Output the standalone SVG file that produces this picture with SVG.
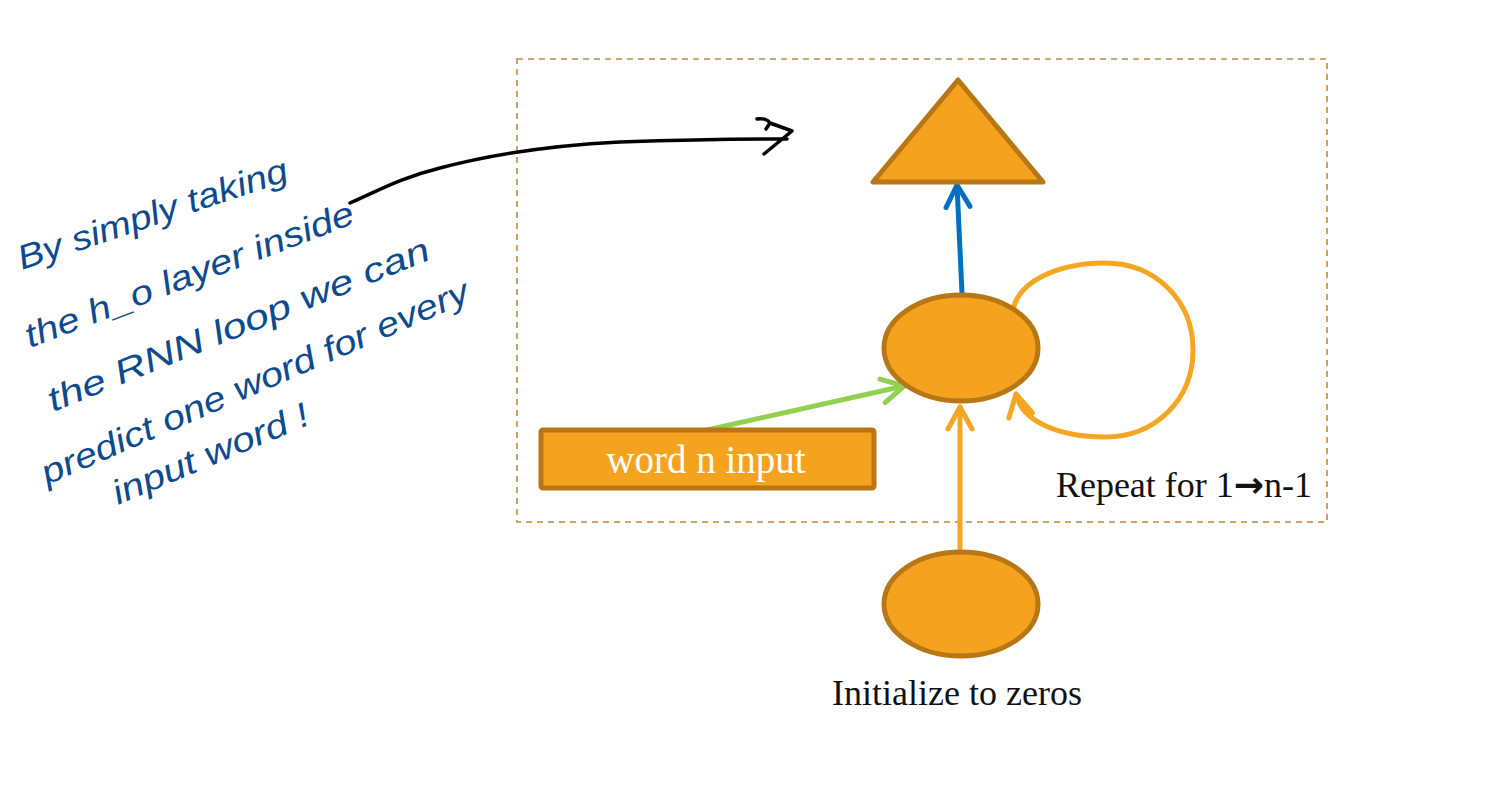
<svg xmlns="http://www.w3.org/2000/svg" width="1489" height="787" viewBox="0 0 1489 787">
<style>
.node{fill:#F5A31F;stroke:#B87614;stroke-width:5}
.serif{font-family:"Liberation Serif","Times New Roman",serif}
.hand{font-family:"Liberation Sans",Arial,sans-serif;font-style:italic;fill:#0D4A8E;font-size:34px}
.conn{fill:none;stroke-width:5;stroke-linecap:round}
</style>
<defs>
<marker id="hb" markerUnits="userSpaceOnUse" viewBox="-30 -20 40 40" refX="0" refY="0" markerWidth="40" markerHeight="40" orient="auto" overflow="visible"><path d="M-22,-12 L0,0 L-22,12" fill="none" stroke="#0070C0" stroke-width="5" stroke-linecap="round" stroke-linejoin="round"/></marker>
<marker id="ho" markerUnits="userSpaceOnUse" viewBox="-30 -20 40 40" refX="0" refY="0" markerWidth="40" markerHeight="40" orient="auto" overflow="visible"><path d="M-22,-12 L0,0 L-22,12" fill="none" stroke="#F5A623" stroke-width="5" stroke-linecap="round" stroke-linejoin="round"/></marker>
<marker id="hg" markerUnits="userSpaceOnUse" viewBox="-30 -20 40 40" refX="0" refY="0" markerWidth="40" markerHeight="40" orient="auto" overflow="visible"><path d="M-22,-12 L0,0 L-22,12" fill="none" stroke="#92D050" stroke-width="5" stroke-linecap="round" stroke-linejoin="round"/></marker>
</defs>
<rect width="1489" height="787" fill="#ffffff"/>
<rect id="loop-box" x="517" y="59" width="810" height="463" fill="none" stroke="#C08A3E" stroke-width="1.6" stroke-dasharray="6 5"/>
<g id="connectors">
<path class="conn" d="M962,293 L957,185" stroke="#0070C0" marker-end="url(#hb)"/>
<path class="conn" d="M960,550 L960,407" stroke="#F5A623" marker-end="url(#ho)"/>
<path class="conn" d="M707,430 L904,386" stroke="#92D050" marker-end="url(#hg)"/>
<path class="conn" d="M1013,312 C1016,282 1058,263 1105,263 C1155,263 1193,300 1193,350 C1193,400 1155,437 1105,437 C1060,437 1022,422 1016,394" stroke="#F5A623" marker-end="url(#ho)"/>
<path d="M350,203 C380,190 400,178 440,168 C500,152 560,145 620,142 C680,140 740,139 787,139" fill="none" stroke="#000" stroke-width="3.5" stroke-linecap="round"/>
<path d="M757,119 C763,118 768,120 770,123 L766,129 M770,123 L792,131 L764,154" fill="none" stroke="#000" stroke-width="3.5" stroke-linecap="round" stroke-linejoin="round"/>
</g>
<g id="output">
<polygon class="node" points="958,80 873,182 1043,182" stroke-linejoin="round"/>
</g>
<g id="hidden">
<ellipse class="node" cx="961" cy="348" rx="77" ry="53"/>
</g>
<g id="word-input">
<rect class="node" x="541" y="430" width="333" height="58" rx="2"/>
<text class="serif" x="706" y="473" font-size="39" fill="#ffffff" text-anchor="middle">word n input</text>
</g>
<g id="init">
<ellipse class="node" cx="961" cy="604" rx="77" ry="52"/>
<text class="serif" x="957" y="705" font-size="36" fill="#111" text-anchor="middle">Initialize to zeros</text>
</g>
<g id="repeat-label">
<text class="serif" x="1312" y="497" font-size="36" fill="#111" text-anchor="end">Repeat for 1<tspan font-family="DejaVu Sans, sans-serif" font-weight="bold" font-size="36">→</tspan>n-1</text>
</g>
<g id="note">
<text class="hand" transform="translate(22,270) rotate(-18.6)" textLength="283" lengthAdjust="spacingAndGlyphs">By simply taking</text>
<text class="hand" transform="translate(30,348) rotate(-21)" textLength="350" lengthAdjust="spacingAndGlyphs">the h_o layer inside</text>
<text class="hand" transform="translate(53,412) rotate(-22)" textLength="409" lengthAdjust="spacingAndGlyphs">the RNN loop we can</text>
<text class="hand" transform="translate(47,485) rotate(-23.5)" textLength="463" lengthAdjust="spacingAndGlyphs">predict one word for every</text>
<text class="hand" transform="translate(118,505) rotate(-22.8)" textLength="210" lengthAdjust="spacingAndGlyphs">input word !</text>
</g>
</svg>
